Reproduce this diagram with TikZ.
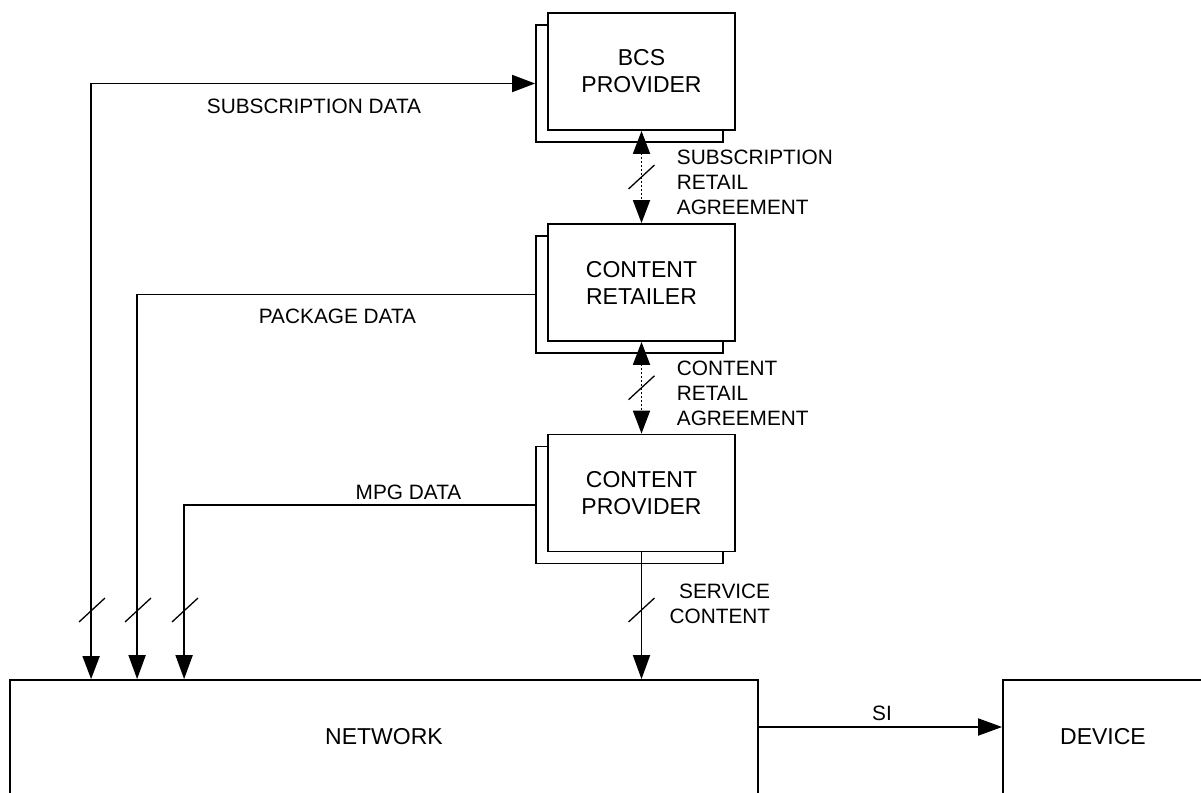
\documentclass[tikz,border=0pt]{standalone}
\usepackage{fontspec}
\setmainfont{Liberation Sans}
\usetikzlibrary{arrows.meta,calc}
\begin{document}
\begin{tikzpicture}[x=1pt,y=-1pt,
  line width=1.8pt,
  box/.style={draw,fill=white,minimum width=187pt,minimum height=117pt,inner sep=0pt,align=center,font=\fontsize{23}{27}\selectfont},
  backbox/.style={draw,fill=white,minimum width=187pt,minimum height=117pt,inner sep=0pt},
  bigbox/.style={draw,fill=white,inner sep=0pt,font=\fontsize{23}{27}\selectfont},
  lbl/.style={font=\fontsize{20.8}{25}\selectfont,inner sep=0pt},
  tip/.style={-{Triangle[length=24pt,width=17pt]}},
  dtip/.style={{Triangle[length=23pt,width=17pt]}-{Triangle[length=23pt,width=17pt]}},
  dotline/.style={dash pattern=on 2pt off 2pt},
  slashpic/.pic={\draw[line width=1.3pt,solid] (-13,12) -- (13,-12);}
]
\useasboundingbox (0,0) rectangle (1201,792);
\clip (0,0) rectangle (1201,792);
\fill[white] (0,0) rectangle (1201,792);

% stacked boxes
\node[backbox] (bcsb) at (629.5,83.5) {};
\node[box] (bcs) at (641.5,71.5) {BCS\\PROVIDER};
\node[backbox] (retb) at (629.5,294.5) {};
\node[box] (ret) at (641.5,282.5) {CONTENT\\RETAILER};
\node[backbox] (provb) at (629.5,505) {};
\node[box] (prov) at (641.5,493) {CONTENT\\PROVIDER};

% bottom boxes
\node[bigbox,minimum width=748pt,minimum height=114pt] (net) at (384,737) {NETWORK};
\node[bigbox,minimum width=200pt,minimum height=114pt] (dev) at (1103,737) {DEVICE};

% connectors
\draw[dtip] (bcsb.west) -| ([xshift=82pt]net.north west);
\draw[tip] (retb.west) -| ([xshift=128pt]net.north west);
\draw[tip] (provb.west) -| ([xshift=175pt]net.north west);
\draw[tip] (prov.south) -- (prov.south |- net.north);
\draw[dtip,dotline] (bcs.south) -- (ret.north);
\draw[dtip,dotline] (ret.south) -- (prov.north);
\draw[tip] ([yshift=10pt]net.east) -- ([yshift=10pt]net.east -| dev.west);

% slash marks
\pic at ($(bcs.south)!0.5!(ret.north)$) {slashpic};
\pic at ($(ret.south)!0.5!(prov.north)$) {slashpic};
\pic at (92,610) {slashpic};
\pic at (138,610) {slashpic};
\pic at (185,610) {slashpic};
\pic at (641.5,610) {slashpic};

% labels
\node[lbl] (lsub) at (314,106.5) {SUBSCRIPTION DATA};
\node[lbl] (lpack) at (337.5,316) {PACKAGE DATA};
\node[lbl] (lmpg) at (408.5,492.5) {MPG DATA};
\node[lbl,align=left,anchor=west] (lsra) at (676,182.5) {SUBSCRIPTION\\RETAIL\\AGREEMENT};
\node[lbl,align=left,anchor=west] (lcra) at (676,393) {CONTENT\\RETAIL\\AGREEMENT};
\node[lbl,align=right,anchor=east] (lsc) at (771,603.5) {SERVICE\\CONTENT};
\node[lbl] (lsi) at (882,713.5) {SI};
\end{tikzpicture}
\end{document}
